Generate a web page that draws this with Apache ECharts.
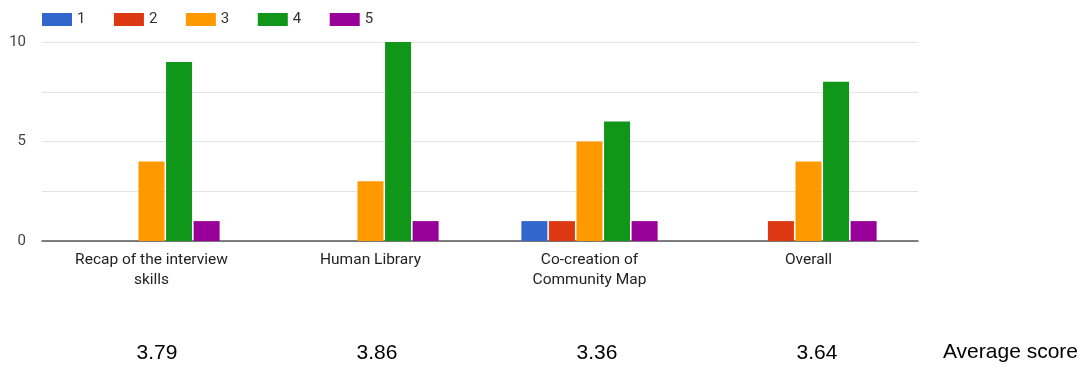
<!DOCTYPE html>
<html>
<head>
<meta charset="utf-8">
<script src="https://cdn.jsdelivr.net/npm/echarts@6/dist/echarts.min.js"></script>
<style>
html,body{margin:0;padding:0;background:#fff;}
#chart{width:1083px;height:367px;}
</style>
</head>
<body>
<div id="chart"></div>
<script>
const categories = ['Recap of the interview\nskills', 'Human Library', 'Co-creation of\nCommunity Map', 'Overall'];
const seriesNames = ['1', '2', '3', '4', '5'];
const score1 = [0, 0, 1, 0];
const score2 = [0, 0, 1, 1];
const score3 = [4, 3, 5, 4];
const score4 = [9, 10, 6, 8];
const score5 = [1, 1, 1, 1];
const averageScores = ['3.79', '3.86', '3.36', '3.64'];
const yTicks = [0, 5, 10];
const colors = ['#3366cc', '#dc3912', '#ff9900', '#109618', '#990099'];

const values = [score1, score2, score3, score4, score5];
const chart = echarts.init(document.getElementById('chart'));
chart.setOption({
  animation: false,
  color: colors,
  textStyle: { fontFamily: 'Roboto' },
  title: {
    text: 'Average score',
    right: 5,
    top: 340,
    padding: 0,
    textStyle: { fontFamily: 'Liberation Sans', fontSize: 21, fontWeight: 'normal', color: '#000', lineHeight: 24 }
  },
  legend: {
    left: 42,
    top: 12,
    padding: 0,
    itemWidth: 30,
    itemHeight: 13,
    itemGap: 28.5,
    icon: 'rect',
    textStyle: { fontSize: 15, color: '#333' },
    data: seriesNames
  },
  grid: [
    { left: 42, right: 165, top: 42, bottom: 126 },
    { left: 47, right: 156, top: 340, height: 1 }
  ],
  xAxis: [
    {
      type: 'category',
      gridIndex: 0,
      data: categories,
      axisTick: { show: false },
      axisLine: { lineStyle: { color: '#555', width: 1.5 } },
      axisLabel: { fontSize: 15.5, color: '#222', lineHeight: 20, margin: 9, interval: 0 }
    },
    {
      type: 'category',
      gridIndex: 1,
      data: averageScores,
      axisTick: { show: false },
      axisLine: { show: false },
      axisLabel: { fontFamily: 'Liberation Sans', fontSize: 21, color: '#000', lineHeight: 24, margin: 0, interval: 0 }
    }
  ],
  yAxis: [
    {
      type: 'value',
      gridIndex: 0,
      min: 0,
      max: 10,
      interval: 2.5,
      axisLine: { show: false },
      axisTick: { show: false },
      splitLine: { lineStyle: { color: '#e3e3e3', width: 1 } },
      axisLabel: {
        fontSize: 15,
        color: '#444',
        margin: 16,
        formatter: v => (yTicks.indexOf(v) >= 0 ? String(v) : '')
      }
    },
    { type: 'value', gridIndex: 1, show: false }
  ],
  series: seriesNames.map((name, i) => ({
    name: name,
    type: 'bar',
    xAxisIndex: 0,
    yAxisIndex: 0,
    data: values[i],
    barWidth: 26,
    barGap: '6%'
  }))
});
</script>
</body>
</html>
